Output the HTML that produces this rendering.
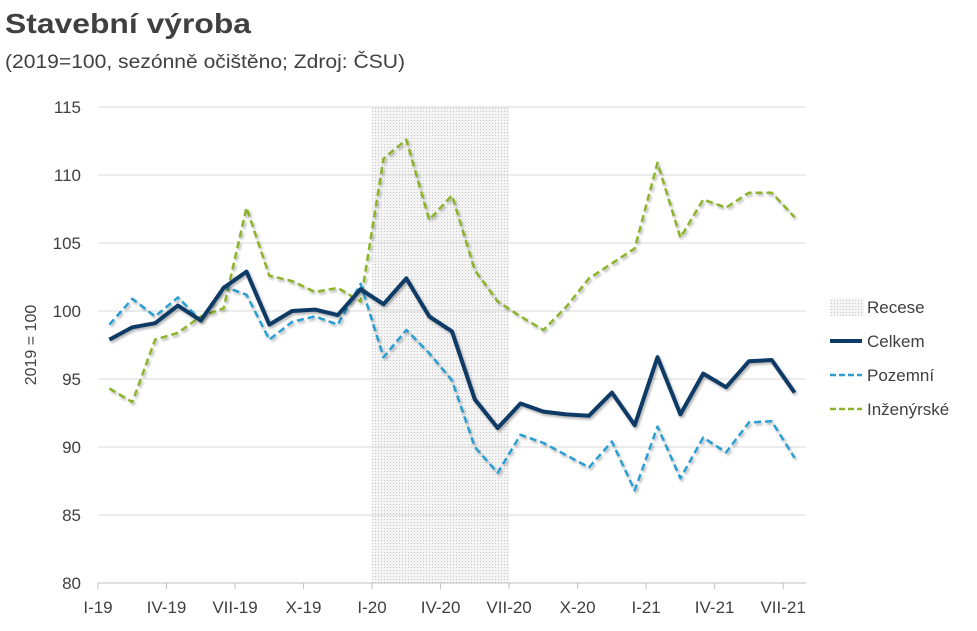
<!DOCTYPE html>
<html><head><meta charset="utf-8"><style>
html,body{margin:0;padding:0;background:#fff;}
svg{display:block;font-family:"Liberation Sans",sans-serif;}
</style></head><body>
<svg id="chart" width="977" height="631" viewBox="0 0 977 631">
<defs>
<pattern id="dots" width="3" height="3" patternUnits="userSpaceOnUse"><rect width="3" height="3" fill="#f4f4f4"/><rect width="1" height="1" fill="#c8c8c8"/></pattern>
<filter id="sh" x="-5%" y="-5%" width="110%" height="110%"><feDropShadow dx="1.5" dy="2" stdDeviation="1.2" flood-color="#000" flood-opacity="0.3"/></filter>
</defs>
<text x="5" y="33" font-size="28" font-weight="bold" fill="#404040" textLength="246" lengthAdjust="spacingAndGlyphs">Stavební výroba</text>
<text x="5" y="68" font-size="19" fill="#404040" textLength="400" lengthAdjust="spacingAndGlyphs">(2019=100, sezónně očištěno; Zdroj: ČSU)</text>
<g id="plot"></g>
<text transform="translate(36,345) rotate(-90)" text-anchor="middle" font-size="16" fill="#404040">2019 = 100</text>
</svg>
<script>
const months = ["I-19","II-19","III-19","IV-19","V-19","VI-19","VII-19","VIII-19","IX-19","X-19","XI-19","XII-19","I-20","II-20","III-20","IV-20","V-20","VI-20","VII-20","VIII-20","IX-20","X-20","XI-20","XII-20","I-21","II-21","III-21","IV-21","V-21","VI-21","VII-21"];
const celkem = [97.9,98.8,99.1,100.4,99.3,101.7,102.9,99.0,100.0,100.1,99.7,101.6,100.5,102.4,99.6,98.5,93.5,91.4,93.2,92.6,92.4,92.3,94.0,91.6,96.6,92.4,95.4,94.4,96.3,96.4,94.0];
const pozemni = [99.0,100.9,99.6,101.0,99.3,101.8,101.2,97.9,99.2,99.6,99.0,102.0,96.6,98.6,96.9,94.9,90.0,88.1,90.9,90.3,89.4,88.5,90.4,86.8,91.5,87.7,90.7,89.6,91.8,91.9,89.2];
const inzenyrske = [94.3,93.3,97.9,98.4,99.6,100.2,107.6,102.6,102.2,101.4,101.7,100.7,111.2,112.6,106.7,108.5,103.0,100.7,99.6,98.6,100.3,102.4,103.5,104.6,110.9,105.4,108.2,107.6,108.7,108.7,106.9];
const yTicks = [80,85,90,95,100,105,110,115];
const xTickLabels = ["I-19","IV-19","VII-19","X-19","I-20","IV-20","VII-20","X-20","I-21","IV-21","VII-21"];
const recessionStart = 12, recessionEnd = 18;

const NS="http://www.w3.org/2000/svg";
const g=document.getElementById("plot");
const X0=98, X1=806, Y0=583, Y1=107, VMIN=80, VMAX=115;
const step=(X1-X0)/months.length;
const xb=i=>X0+step*i;
const xc=i=>X0+step*(i+0.5);
const y=v=>Y0-(v-VMIN)/(VMAX-VMIN)*(Y0-Y1);
function mk(t,a){const e=document.createElementNS(NS,t);for(const k in a)e.setAttribute(k,a[k]);g.appendChild(e);return e;}

const rec=mk("rect",{x:xb(recessionStart),y:Y1,width:xb(recessionEnd)-xb(recessionStart),height:Y0-Y1,fill:"url(#dots)"});



yTicks.forEach(v=>{
  const l=mk("line",{x1:X0,x2:X1,y1:y(v),y2:y(v),stroke:v===VMIN?"#bfbfbf":"#d9d9d9","stroke-width":1});
  
  
  const t=mk("text",{x:81,y:y(v)+6,"text-anchor":"end","font-size":17,fill:"#404040"});
  t.textContent=v;
  
  
});
xTickLabels.forEach((lab,k)=>{
  const xx=xb(k*3);
  const tk=mk("line",{x1:xx,x2:xx,y1:Y0,y2:Y0+6,stroke:"#bfbfbf"});
  
  
  const t=mk("text",{x:xx,y:Y0+30,"text-anchor":"middle","font-size":17,fill:"#404040"});
  t.textContent=lab;
  
  
});
function line(data,color,w,dash,name){
  const p=mk("polyline",{points:data.map((v,i)=>xc(i).toFixed(1)+","+y(v).toFixed(1)).join(" "),fill:"none",stroke:color,"stroke-width":w,"stroke-dasharray":dash,"stroke-linejoin":"round",filter:"url(#sh)"});
  
  
}
line(inzenyrske,"#8db32b",2.5,"7 4","series-inzenyrske");
line(pozemni,"#2b9ed1",2.5,"7 4","series-pozemni");
line(celkem,"#0d3a66",4,"none","series-celkem");

const leg=[["Recese",null],["Celkem","celkem"],["Pozemní","poz"],["Inženýrské","inz"]];
leg.forEach((e,k)=>{
  const yy=307+k*34;
  if(e[1]===null){const r=mk("rect",{x:830,y:yy-9,width:34,height:18,fill:"url(#dots)"});}
  else{
    const c={celkem:"#0d3a66",poz:"#2b9ed1",inz:"#8db32b"}[e[1]];
    const l=mk("line",{x1:830,x2:862,y1:yy,y2:yy,stroke:c,"stroke-width":e[1]==="celkem"?4:2.5,"stroke-dasharray":e[1]==="celkem"?"none":"6 3"});
    
    
  }
  const t=mk("text",{x:867,y:yy+6,"font-size":17,fill:"#404040"});
  t.textContent=e[0];
  
  
});
</script>
</body></html>
